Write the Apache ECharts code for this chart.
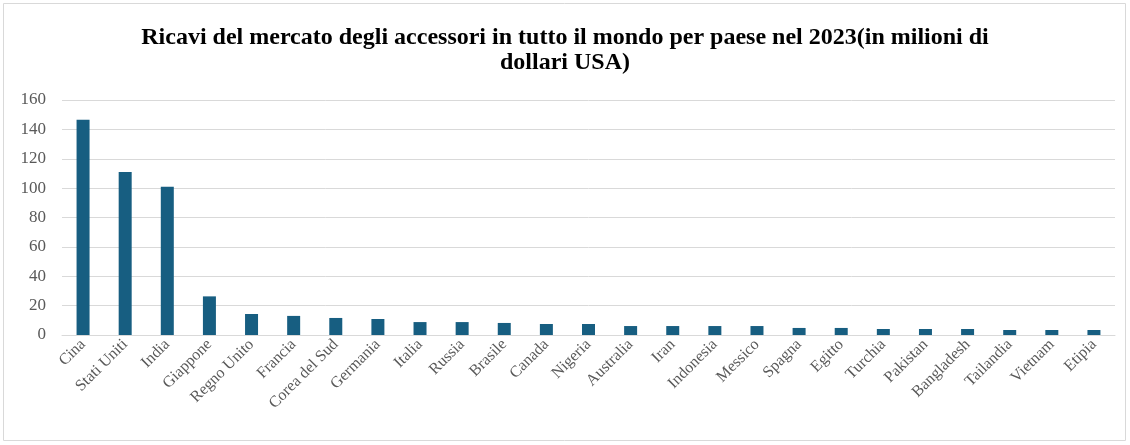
<!DOCTYPE html>
<html><head><meta charset="utf-8">
<script src="https://cdn.jsdelivr.net/npm/echarts@6/dist/echarts.min.js"></script>
<style>html,body{margin:0;padding:0;background:#fff}#c{width:1130px;height:445px}</style>
</head><body><div id="c"></div>
<script>
const categories = ["Cina","Stati Uniti","India","Giappone","Regno Unito","Francia","Corea del Sud","Germania","Italia","Russia","Brasile","Canada","Nigeria","Australia","Iran","Indonesia","Messico","Spagna","Egitto","Turchia","Pakistan","Bangladesh","Tailandia","Vietnam","Etipia"];
const values = [146.5,111,101,26.3,14.3,13,11.6,10.9,8.8,8.8,8.2,7.5,7.5,6.1,6.1,6.1,6.1,4.8,4.8,4.1,4.1,4.1,3.4,3.4,3.4];
const yTicks = [0,20,40,60,80,100,120,140,160];
const titleText = "Ricavi del mercato degli accessori in tutto il mondo per paese nel 2023(in milioni di\ndollari USA)";

const chart = echarts.init(document.getElementById('c'));
const serif = '"Liberation Serif","Times New Roman",serif';
chart.setOption({
  animation:false,
  graphic:[{type:'rect',shape:{x:3.5,y:3.5,width:1122,height:437},style:{fill:'none',stroke:'#d9d9d9',lineWidth:1},silent:true}],
  title:{text:titleText,left:'center',top:20,textStyle:{fontFamily:serif,fontWeight:'bold',fontSize:24,color:'#000',lineHeight:25}},
  grid:{left:62,right:15,top:100,bottom:110,containLabel:false},
  xAxis:{type:'category',data:categories,
    axisLine:{lineStyle:{color:'#d9d9d9',width:1}},axisTick:{show:false},
    axisLabel:{rotate:45,interval:0,fontFamily:serif,fontSize:16,color:'#595959',margin:7}},
  yAxis:{type:'value',min:yTicks[0],max:yTicks[yTicks.length-1],interval:20,
    axisLine:{show:false},axisTick:{show:false},
    splitLine:{lineStyle:{color:'#d9d9d9',width:1}},
    axisLabel:{fontFamily:serif,fontSize:17,color:'#595959',margin:16}},
  series:[{type:'bar',data:values,barWidth:13,itemStyle:{color:'#175e81'}}]
});
</script></body></html>
